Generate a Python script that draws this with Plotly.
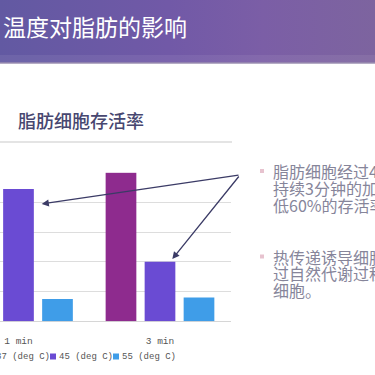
import plotly.graph_objects as go

# ---- data ----
categories = ["1 min", "3 min"]
series_names = ["37 (deg C)", "45 (deg C)", "55 (deg C)"]
series_values = [
    [100, 100],
    [89, 40],
    [15, 16],
]
series_colors = ["#8e2b8e", "#6a4bd3", "#3f9de8"]
y_ticks = [0, 20, 40, 60, 80, 100]

slide_title = "温度对脂肪的影响"
chart_title = "脂肪细胞存活率"
bullet_lines = [
    ["脂肪细胞经过45度、", "持续3分钟的加热，降", "低60%的存活率。"],
    ["热传递诱导细胞凋亡，", "过自然代谢过程清除", "细胞。"],
]

W = H = 375
CJK = "Noto Sans CJK SC"
MONO = "Liberation Mono"


def px(x):
    return x / W


def py(y):
    return 1 - y / H


fig = go.Figure()

# header band (pixel-coordinate overlay axes)
fig.add_trace(go.Scatter(
    x=[0, W, W, 0, 0], y=[0, 0, 63, 63, 0], xaxis="x2", yaxis="y2",
    mode="lines", fill="toself", line=dict(width=0),
    fillgradient=dict(type="horizontal",
                      colorscale=[[0, "#6259a2"], [0.45, "#7159a7"],
                                  [0.7, "#7b5ea6"], [1, "#7d649f"]]),
    hoverinfo="skip", showlegend=False))

for name, vals, col in zip(series_names, series_values, series_colors):
    fig.add_trace(go.Bar(x=categories, y=vals, name=name,
                         marker=dict(color=col, line=dict(width=0)),
                         showlegend=False, hoverinfo="skip"))

shapes = []
annotations = []

# header bottom stripes
shapes.append(dict(type="rect", xref="paper", yref="paper", x0=0, x1=1,
                   y0=py(62), y1=py(55), fillcolor="rgba(255,255,255,0.07)",
                   line=dict(width=0), layer="above"))
shapes.append(dict(type="line", xref="paper", yref="paper", x0=0, x1=1,
                   y0=py(63), y1=py(63), line=dict(color="#9d90b2", width=1.5)))

# chart-title underline
shapes.append(dict(type="line", xref="paper", yref="paper", x0=0, x1=px(232),
                   y0=py(142), y1=py(142), line=dict(color="#e4e4e4", width=2)))

annotations.append(dict(text=slide_title, xref="paper", yref="paper",
                        x=px(1), y=py(26), xanchor="left", yanchor="middle",
                        showarrow=False, font=dict(family=CJK, size=23, color="white")))
annotations.append(dict(text=chart_title, xref="paper", yref="paper",
                        x=px(16), y=py(120), xanchor="left", yanchor="middle",
                        showarrow=False,
                        font=dict(family=CJK, size=18, color="#474770", weight=500)))

# legend (manual, cut at left edge like the reference)
for i, (name, col) in enumerate(zip(series_names, series_colors)):
    start = -13 + 63 * i
    shapes.append(dict(type="rect", xref="paper", yref="paper",
                       x0=px(start), x1=px(start + 6), y0=py(359.5), y1=py(353.5),
                       fillcolor=col, line=dict(width=0)))
    annotations.append(dict(text=name, xref="paper", yref="paper",
                            x=px(start + 7), y=py(356.7), xanchor="left", yanchor="middle",
                            showarrow=False, font=dict(family=MONO, size=9, color="#555555")))

# arrows
arrow_col = "#3b3b66"
for tip, tail in [((41.7, 204), (240, 175)), ((172.3, 259), (240, 175))]:
    annotations.append(dict(text="", xref="paper", yref="paper",
                            x=px(tip[0]), y=py(tip[1]),
                            axref="pixel", ayref="pixel",
                            ax=tail[0] - tip[0], ay=tail[1] - tip[1],
                            showarrow=True, arrowhead=2, arrowsize=1.1,
                            arrowwidth=1.3, arrowcolor=arrow_col, standoff=0))

# right-side bullet text
block_tops = [171, 256.5]
for lines, y0 in zip(bullet_lines, block_tops):
    shapes.append(dict(type="rect", xref="paper", yref="paper",
                       x0=px(260), x1=px(264), y0=py(y0 + 2), y1=py(y0 - 2),
                       fillcolor="#e7c3cf", line=dict(width=0)))
    for j, line in enumerate(lines):
        annotations.append(dict(text=line, xref="paper", yref="paper",
                                x=px(271), y=py(y0 + 16.8 * j), xanchor="left",
                                yanchor="middle", showarrow=False,
                                font=dict(family=CJK, size=16, color="#86859a")))

fig.update_layout(
    width=W, height=H, margin=dict(l=0, r=0, t=0, b=0, autoexpand=False),
    paper_bgcolor="white", plot_bgcolor="rgba(0,0,0,0)",
    barmode="group", bargap=0.173, bargroupgap=0.213,
    xaxis=dict(domain=[0, px(231)], type="category",
               range=[-0.1307, 1.5018], showgrid=False, zeroline=False,
               showline=False, ticks="outside", ticklen=10,
               tickcolor="rgba(0,0,0,0)",
               tickfont=dict(family=MONO, size=9.5, color="#555555"),
               fixedrange=True),
    yaxis=dict(domain=[py(321.3), py(172.25)], range=[0, 100.3],
               tickvals=y_ticks, showticklabels=False, ticks="",
               showgrid=True, gridcolor="#dddddd", gridwidth=1,
               zeroline=True, zerolinecolor="#d6d6d6", zerolinewidth=1,
               showline=False, fixedrange=True),
    xaxis2=dict(domain=[0, 1], range=[0, W], visible=False, anchor="y2",
                fixedrange=True),
    yaxis2=dict(domain=[0, 1], range=[H, 0], visible=False, anchor="x2",
                fixedrange=True),
    shapes=shapes, annotations=annotations,
)

fig.write_html("out.html", config={"displayModeBar": False})
